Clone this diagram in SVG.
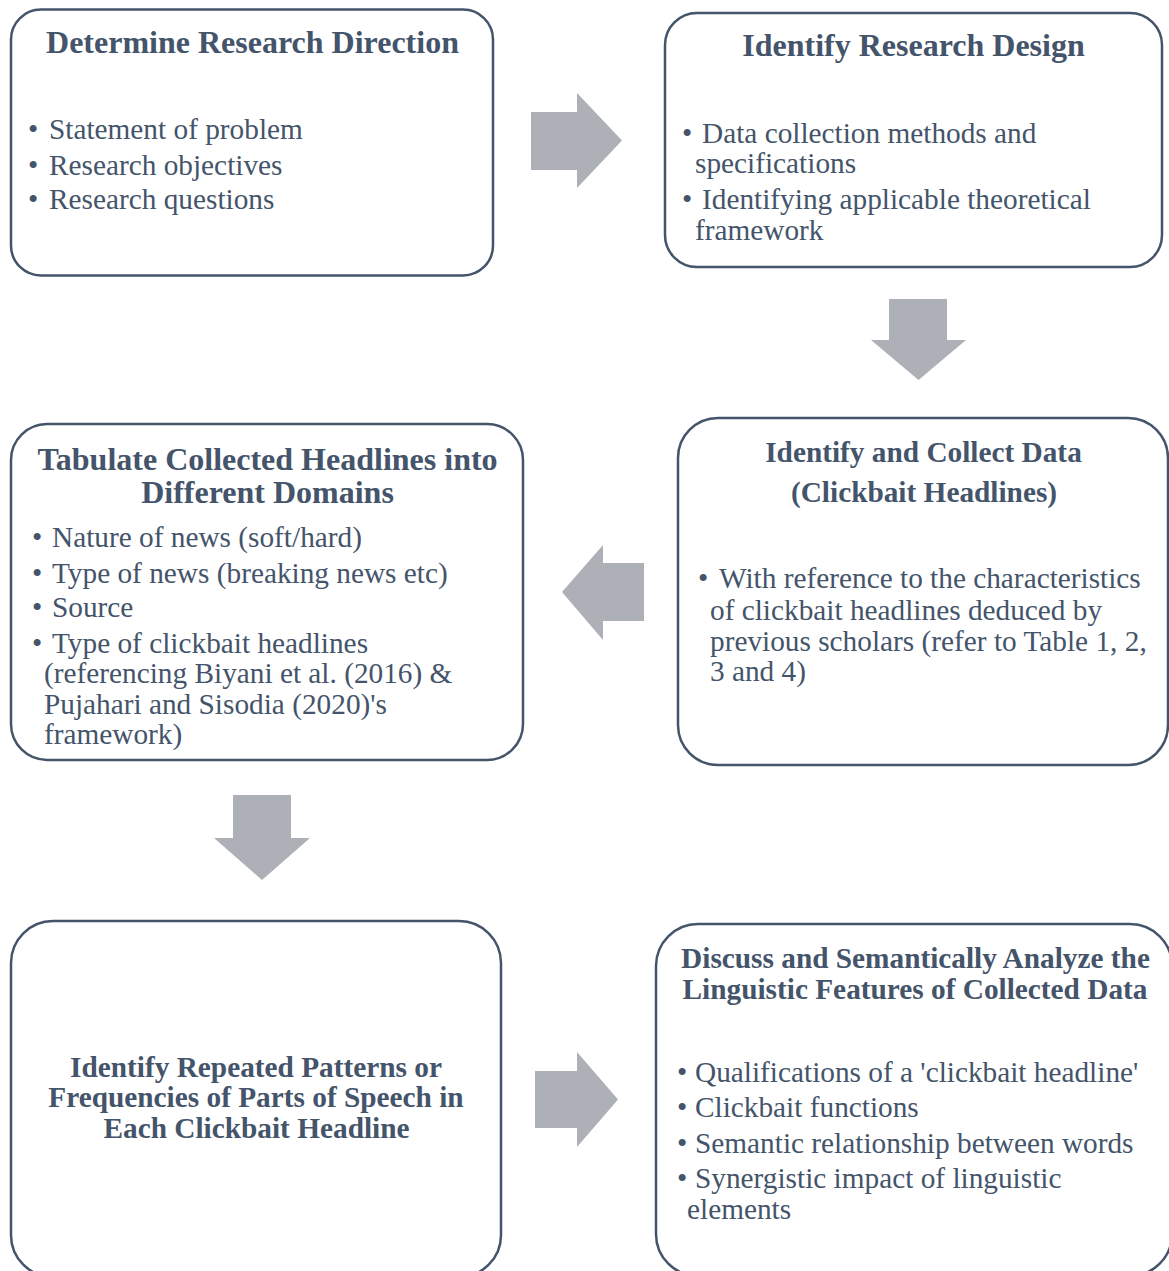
<svg xmlns="http://www.w3.org/2000/svg" width="1169" height="1271" viewBox="0 0 1169 1271">
<style>
.box{fill:#FFFFFF;stroke:#44546A;stroke-width:2.5}
.arr{fill:#AEB0B7;stroke:none}
text{font-family:"Liberation Serif","Times New Roman",serif;fill:#44546A}
.t{font-weight:bold;text-anchor:middle}
.t32{font-size:32px}
.t29{font-size:29.3px}
.b{font-size:29.3px}
</style>
<rect width="1169" height="1271" fill="#FFFFFF"/>
<g id="connectors">
<polygon class="arr" points="531,112 577,112 577,93 622,140.5 577,188 577,170 531,170"/>
<polygon class="arr" points="889,299 947,299 947,340 966,340 918.5,380 871,340 889,340"/>
<polygon class="arr" points="644,563 603,563 603,545 562,592 603,640 603,621 644,621"/>
<polygon class="arr" points="233,795 291,795 291,838 310,838 262,880 214,838 233,838"/>
<polygon class="arr" points="535,1071 577,1071 577,1052 618,1099.5 577,1147 577,1128 535,1128"/>
</g>
<g id="node1">
<rect class="box" x="11" y="9.5" width="482" height="266" rx="30" ry="30"/>
<text class="t t32" x="252.5" y="53">Determine Research Direction</text>
<text class="b" x="28" y="139">•</text><text class="b" x="49" y="139">Statement of problem</text>
<text class="b" x="28" y="175">•</text><text class="b" x="49" y="175">Research objectives</text>
<text class="b" x="28" y="209">•</text><text class="b" x="49" y="209">Research questions</text>
</g>
<g id="node2">
<rect class="box" x="665" y="13" width="497" height="254" rx="32" ry="32"/>
<text class="t t32" x="913.5" y="56">Identify Research Design</text>
<text class="b" x="682" y="143">•</text><text class="b" x="702" y="143">Data collection methods and</text>
<text class="b" x="695" y="173">specifications</text>
<text class="b" x="682" y="209">•</text><text class="b" x="702" y="209">Identifying applicable theoretical</text>
<text class="b" x="695" y="240">framework</text>
</g>
<g id="node3">
<rect class="box" x="11" y="424" width="512" height="336" rx="36" ry="36"/>
<text class="t t32" x="267.5" y="470">Tabulate Collected Headlines into</text>
<text class="t t32" x="267.5" y="503">Different Domains</text>
<text class="b" x="32" y="547">•</text><text class="b" x="52" y="547">Nature of news (soft/hard)</text>
<text class="b" x="32" y="583">•</text><text class="b" x="52" y="583">Type of news (breaking news etc)</text>
<text class="b" x="32" y="617">•</text><text class="b" x="52" y="617">Source</text>
<text class="b" x="32" y="653">•</text><text class="b" x="52" y="653">Type of clickbait headlines</text>
<text class="b" x="44" y="683">(referencing Biyani et al. (2016) &amp;</text>
<text class="b" x="44" y="714">Pujahari and Sisodia (2020)'s</text>
<text class="b" x="44" y="744">framework)</text>
</g>
<g id="node4">
<rect class="box" x="678" y="418" width="490" height="347" rx="40" ry="40"/>
<text class="t t29" x="923.5" y="462">Identify and Collect Data</text>
<text class="t t29" x="924" y="502">(Clickbait Headlines)</text>
<text class="b" x="698" y="588">•</text><text class="b" x="719" y="588">With reference to the characteristics</text>
<text class="b" x="710" y="620">of clickbait headlines deduced by</text>
<text class="b" x="710" y="651">previous scholars (refer to Table 1, 2,</text>
<text class="b" x="710" y="681">3 and 4)</text>
</g>
<g id="node5">
<rect class="box" x="11" y="921" width="490" height="356" rx="42" ry="42"/>
<text class="t t29" x="256" y="1077">Identify Repeated Patterns or</text>
<text class="t t29" x="256" y="1107">Frequencies of Parts of Speech in</text>
<text class="t t29" x="256.5" y="1138">Each Clickbait Headline</text>
</g>
<g id="node6">
<rect class="box" x="656" y="924" width="516" height="352" rx="42" ry="42"/>
<text class="t t29" x="915.5" y="968">Discuss and Semantically Analyze the</text>
<text class="t t29" x="915" y="999">Linguistic Features of Collected Data</text>
<text class="b" x="677" y="1082">•</text><text class="b" x="695" y="1082">Qualifications of a 'clickbait headline'</text>
<text class="b" x="677" y="1117">•</text><text class="b" x="695" y="1117">Clickbait functions</text>
<text class="b" x="677" y="1153">•</text><text class="b" x="695" y="1153">Semantic relationship between words</text>
<text class="b" x="677" y="1188">•</text><text class="b" x="695" y="1188">Synergistic impact of linguistic</text>
<text class="b" x="687" y="1219">elements</text>
</g>
</svg>
